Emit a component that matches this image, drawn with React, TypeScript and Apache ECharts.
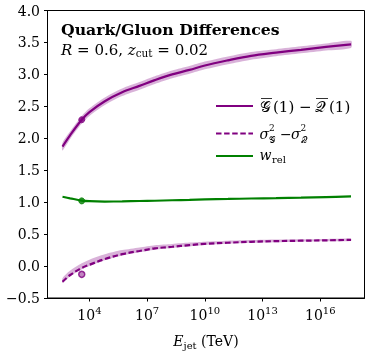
import React, { useEffect, useRef } from 'react';
import * as echarts from 'echarts';

// log10(E_jet / TeV) sample positions
const logE = [2.6, 3.0, 3.6, 4.0, 4.8, 5.7, 6.6, 7.4, 8.3, 9.2, 10.0, 11.2, 12.4, 13.7, 15.0, 16.3, 17.6];

// G(1) - Q(1)
const gqMean = [1.87, 2.05, 2.29, 2.41, 2.58, 2.72, 2.82, 2.91, 3.0, 3.07, 3.14, 3.22, 3.29, 3.34, 3.385, 3.43, 3.47];
const gqLow = [1.81, 1.99, 2.23, 2.35, 2.52, 2.66, 2.76, 2.85, 2.94, 3.01, 3.08, 3.16, 3.23, 3.285, 3.33, 3.375, 3.415];
const gqHigh = [1.93, 2.11, 2.35, 2.47, 2.64, 2.78, 2.88, 2.97, 3.06, 3.13, 3.2, 3.28, 3.35, 3.395, 3.44, 3.485, 3.525];

// sigma_G^2 - sigma_Q^2
const sigMean = [-0.245, -0.14, -0.03, 0.02, 0.11, 0.186, 0.236, 0.277, 0.302, 0.328, 0.348, 0.365, 0.38, 0.39, 0.397, 0.403, 0.41];
const sigLow = [-0.265, -0.16, -0.05, 0.0, 0.09, 0.166, 0.216, 0.257, 0.283, 0.31, 0.33, 0.348, 0.363, 0.373, 0.381, 0.387, 0.394];
const sigHigh = [-0.19, -0.07, 0.045, 0.1, 0.185, 0.25, 0.292, 0.327, 0.347, 0.367, 0.382, 0.396, 0.406, 0.414, 0.419, 0.424, 0.429];

// w_rel
const wRel = [1.085, 1.06, 1.025, 1.015, 1.01, 1.012, 1.018, 1.022, 1.03, 1.037, 1.044, 1.05, 1.057, 1.063, 1.07, 1.08, 1.09];

// single reference points
const markerLogE = 3.6;
const markerGQ = 2.29;
const markerSig = -0.13;
const markerW = 1.02;

const xTicks = [4, 7, 10, 13, 16];

const PURPLE = '#800080';
const BAND = 'rgba(128,0,128,0.3)';
const GREEN = '#008000';
const FONT = 'DejaVu Serif';

export default function App() {
  const ref = useRef<HTMLDivElement>(null);
  useEffect(() => {
    const chart = echarts.init(ref.current!, null, { renderer: 'svg' });
    const pairs = (ys: number[]) => logE.map((x, i) => [x, ys[i]]);
    const lineBase = { type: 'line', symbol: 'none', smooth: 0.35, silent: true };
    const band = (lo: number[], hi: number[]) => ({
      type: 'custom', silent: true, z: 1, clip: true,
      data: [[logE[0], lo[0]]],
      renderItem: (_p: any, api: any) => {
        const pts = [
          ...logE.map((x, i) => api.coord([x, lo[i]])),
          ...logE.map((x, i) => api.coord([x, hi[i]])).reverse(),
        ];
        return { type: 'polygon', shape: { points: pts, smooth: 0.25 }, style: { fill: BAND } };
      },
    });
    const txt = { fontFamily: FONT, color: '#000' };
    const g = (text: string, x: number, y: number, size: number, extra: any = {}) => ({
      type: 'text', x, y,
      style: { text, fontFamily: FONT, fill: '#000', fontSize: size, verticalAlign: 'middle', ...extra },
    });
    chart.setOption({
      animation: false,
      grid: { left: 47.5, right: 9.5, top: 10.5, bottom: 51, show: true, borderColor: '#000', borderWidth: 1, backgroundColor: 'transparent' },
      xAxis: {
        type: 'value', min: 1.82, max: 18.3,
        splitLine: { show: false },
        axisLine: { show: true, onZero: false, lineStyle: { color: '#000', width: 1 } },
        axisTick: { show: true, length: 3.5, customValues: xTicks, lineStyle: { color: '#000' } },
        axisLabel: {
          customValues: xTicks, margin: 7,
          formatter: (v: number) => `{b|10}{sup|${v}}`,
          rich: {
            b: { ...txt, fontSize: 14, lineHeight: 20 },
            sup: { ...txt, fontSize: 10, lineHeight: 10, verticalAlign: 'top' },
          },
        },
        name: '{i|E}{sub|jet}{b| (TeV)}', nameLocation: 'middle', nameGap: 34,
        nameTextStyle: {
          rich: {
            i: { ...txt, fontSize: 14, fontStyle: 'italic', lineHeight: 18 },
            b: { ...txt, fontSize: 14, lineHeight: 18 },
            sub: { ...txt, fontSize: 10, lineHeight: 10, verticalAlign: 'bottom' },
          },
        },
      },
      yAxis: {
        type: 'value', min: -0.5, max: 4, interval: 0.5,
        splitLine: { show: false },
        axisLine: { show: true, onZero: false, lineStyle: { color: '#000', width: 1 } },
        axisTick: { show: true, length: 3.5, lineStyle: { color: '#000' } },
        axisLabel: {
          ...txt, fontSize: 14, margin: 7.5,
          formatter: (v: number) => (v < 0 ? '\u2212' + Math.abs(v).toFixed(1) : v.toFixed(1)),
        },
      },
      series: [
        band(gqLow, gqHigh),
        band(sigLow, sigHigh),
        { ...lineBase, name: 'gq', data: pairs(gqMean), lineStyle: { color: PURPLE, width: 2.2 }, z: 3 },
        { ...lineBase, name: 'sig', data: pairs(sigMean), lineStyle: { color: PURPLE, width: 2.2, type: [5.5, 2.6] }, z: 3 },
        { ...lineBase, name: 'w', data: pairs(wRel), lineStyle: { color: GREEN, width: 2.2 }, z: 3 },
        {
          type: 'scatter', data: [[markerLogE, markerGQ]], symbolSize: 6, z: 4,
          itemStyle: { color: PURPLE, borderColor: PURPLE, borderWidth: 1 },
        },
        {
          type: 'scatter', data: [[markerLogE, markerSig]], symbolSize: 6, z: 4,
          itemStyle: { color: 'rgba(128,0,128,0.6)', borderColor: PURPLE, borderWidth: 1.5 },
        },
        {
          type: 'scatter', data: [[markerLogE, markerW]], symbolSize: 6, z: 4,
          itemStyle: { color: GREEN, borderColor: GREEN, borderWidth: 1 },
        },
      ],
      graphic: [
        { type: 'text', left: 61, top: 21, style: { text: 'Quark/Gluon Differences', fontFamily: FONT, fill: '#000', fontSize: 15.7, fontWeight: 'bold' } },
        {
          type: 'text', left: 61, top: 42,
          style: {
            text: '{i|R}{r| = 0.6, }{i|z}{sub|cut}{r| = 0.02}', fill: '#000',
            rich: {
              i: { ...txt, fontSize: 15, fontStyle: 'italic', lineHeight: 18 },
              r: { ...txt, fontSize: 15, lineHeight: 18 },
              sub: { ...txt, fontSize: 10.5, lineHeight: 10, verticalAlign: 'bottom' },
            },
          },
        },
        // legend handles
        { type: 'line', shape: { x1: 216, y1: 106, x2: 253, y2: 106 }, style: { stroke: PURPLE, lineWidth: 2.2 } },
        { type: 'line', shape: { x1: 216, y1: 133.5, x2: 253, y2: 133.5 }, style: { stroke: PURPLE, lineWidth: 2.2, lineDash: [5.5, 2.6] } },
        { type: 'line', shape: { x1: 216, y1: 156, x2: 253, y2: 156 }, style: { stroke: GREEN, lineWidth: 2.2 } },
        // legend label 1: overline G(1) - overline Q(1)
        g('𝒢', 260, 107, 15),
        g('(1) \u2212', 273, 107, 15),
        g('𝒬', 315, 107, 15),
        g('(1)', 329, 107, 15),
        { type: 'line', shape: { x1: 261, y1: 98.5, x2: 272, y2: 98.5 }, style: { stroke: '#000', lineWidth: 0.8 } },
        { type: 'line', shape: { x1: 316, y1: 98.5, x2: 328, y2: 98.5 }, style: { stroke: '#000', lineWidth: 0.8 } },
        // legend label 2: sigma_G^2 - sigma_Q^2
        g('σ', 259.5, 134, 14, { fontStyle: 'italic' }),
        g('2', 269, 127.5, 9),
        g('𝒢', 269, 139.5, 9),
        g('\u2212', 280, 134, 14),
        g('σ', 291, 134, 14, { fontStyle: 'italic' }),
        g('2', 300.5, 127.5, 9),
        g('𝒬', 300.5, 139.5, 9),
        // legend label 3: w_rel
        g('w', 259.5, 155, 14, { fontStyle: 'italic' }),
        g('rel', 272, 159.5, 10),
      ],
    });
    return () => chart.dispose();
  }, []);
  return <div ref={ref} style={{ position: 'fixed', left: 0, top: 0, width: 374, height: 355 }} />;
}
